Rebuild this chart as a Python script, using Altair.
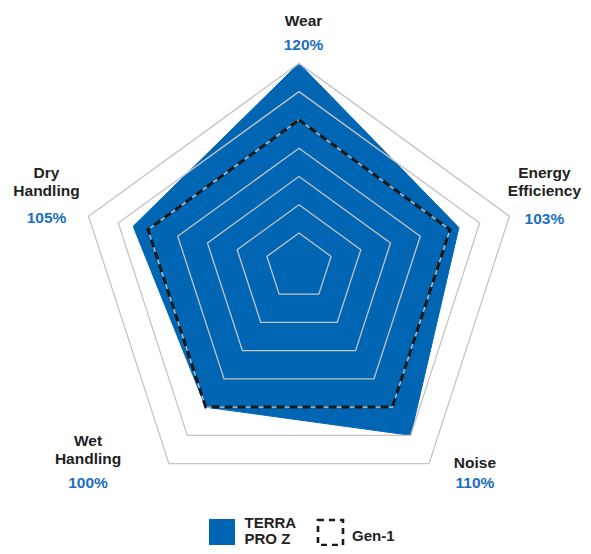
import altair as alt
import pandas as pd

# ---------------- data ----------------
categories = ["Wear", "Energy Efficiency", "Noise", "Wet Handling", "Dry Handling"]
name_lines = [["Wear"], ["Energy", "Efficiency"], ["Noise"], ["Wet", "Handling"], ["Dry", "Handling"]]
terra_values = [120, 103, 110, 100, 105]
gen1_values = [100, 100, 100, 100, 100]
value_labels = ["120%", "103%", "110%", "100%", "105%"]
grid_levels = [60, 70, 80, 90, 100, 110, 120]
legend_lines = [["TERRA", "PRO Z"], ["Gen-1"]]

# ---------------- layout / style ----------------
W, H = 575, 538
CX, CY0, TILT = 299, 263.6, 0.095      # centre (page px) and slight downward drift of centre with radius
R_BASE, PX_PER_PCT = 49.2, 3.125        # radial scale
N = len(categories)
BLUE = "#0066b3"
VALUE_BLUE = "#1a6fc0"
TEXT_DARK = "#222222"
GRID = "#c4c4c4"
FONT = "Liberation Sans"
FS = 15.5
LINE_H = 18
label_dx = [4.5, 35.0, 45.9, -80.9, -42.1]
name_dy = [-37.4, -20.5, 4.7, 0.7, -20.5]
value_dy = [-13.4, 7.8, 24.1, 24.4, 7.1]

xs = alt.Scale(domain=[8, 8 + W], nice=False, zero=False)
ys = alt.Scale(domain=[8, 8 + H], nice=False, zero=False, reverse=True)

r_expr = f"{PX_PER_PCT}*(datum.value-{R_BASE})"
a_expr = f"datum.i*2*PI/{N}"
x_expr = f"{CX} + datum.r*sin(datum.a)"
y_expr = f"{CY0} + {TILT}*datum.r - datum.r*cos(datum.a)"


def polar(ch):
    return (ch.transform_calculate(r=r_expr, a=a_expr)
              .transform_calculate(X=x_expr, Y=y_expr))


# ---------------- tables ----------------
terra_df = pd.DataFrame({"i": range(N), "category": categories, "value": terra_values})
gen1_df = pd.DataFrame({"i": range(N), "category": categories, "value": gen1_values})
grid_df = pd.DataFrame([{"level": lv, "i": i, "value": lv} for lv in grid_levels for i in range(N)])

lab_rows = []
top = max(grid_levels)
for i in range(N):
    lines = name_lines[i]
    for j, t in enumerate(lines):
        lab_rows.append({"i": i, "value": top, "text": t, "kind": "name",
                         "dx": label_dx[i], "dy": name_dy[i] - (len(lines) - 1 - j) * LINE_H})
    lab_rows.append({"i": i, "value": top, "text": value_labels[i], "kind": "value",
                     "dx": label_dx[i], "dy": value_dy[i]})
lab_df = pd.DataFrame(lab_rows)

enc = dict(x=alt.X("X:Q", scale=xs, axis=None), y=alt.Y("Y:Q", scale=ys, axis=None),
           order=alt.Order("i:Q"))

terra = polar(alt.Chart(terra_df).mark_line(
    interpolate="linear-closed", fill=BLUE, stroke=BLUE, strokeWidth=1, fillOpacity=1
)).encode(**enc)

grid = polar(alt.Chart(grid_df).mark_line(
    interpolate="linear-closed", stroke=GRID, strokeWidth=1.3
)).encode(detail="level:N", **enc)

gen1 = polar(alt.Chart(gen1_df).mark_line(
    interpolate="linear-closed", stroke="#1a1a1a", strokeWidth=3, strokeDash=[8, 5]
)).encode(**enc)

labels_base = polar(alt.Chart(lab_df)).transform_calculate(
    LX="datum.X + datum.dx", LY="datum.Y + datum.dy")
lab_enc = dict(x=alt.X("LX:Q", scale=xs, axis=None), y=alt.Y("LY:Q", scale=ys, axis=None),
               text="text:N")
names = labels_base.transform_filter("datum.kind == 'name'").mark_text(
    font=FONT, fontSize=FS, fontWeight="bold", color=TEXT_DARK, align="center",
    baseline="alphabetic").encode(**lab_enc)
vals = labels_base.transform_filter("datum.kind == 'value'").mark_text(
    font=FONT, fontSize=FS, fontWeight="bold", color=VALUE_BLUE, align="center",
    baseline="alphabetic").encode(**lab_enc)

# ---------------- legend (drawn) ----------------
one = pd.DataFrame({"k": [0]})
leg_sq = alt.Chart(one).mark_rect(fill=BLUE).encode(
    x=alt.value(209 - 8), x2=alt.value(235 - 8), y=alt.value(519 - 8), y2=alt.value(545 - 8))
leg_dash = alt.Chart(one).mark_rect(fill=None, stroke="#1a1a1a", strokeWidth=2.6,
                                    strokeDash=[6, 5]).encode(
    x=alt.value(318 - 8), x2=alt.value(343 - 8), y=alt.value(520 - 8), y2=alt.value(545 - 8))
leg_txt_df = pd.DataFrame({
    "text": legend_lines[0] + legend_lines[1],
    "LX": [244.5, 244.5, 352],
    "LY": [528, 544, 541],
})
leg_txt = alt.Chart(leg_txt_df).mark_text(
    font=FONT, fontSize=15, fontWeight="bold", color=TEXT_DARK, align="left",
    baseline="alphabetic").encode(
    x=alt.X("LX:Q", scale=xs, axis=None), y=alt.Y("LY:Q", scale=ys, axis=None), text="text:N")

chart = alt.layer(terra, grid, gen1, names, vals, leg_sq, leg_dash, leg_txt).properties(
    width=W, height=H, padding=0, autosize="none", background="white"
).configure_view(stroke=None)

chart.save("out.html", embed_options={"renderer": "svg", "actions": False})
